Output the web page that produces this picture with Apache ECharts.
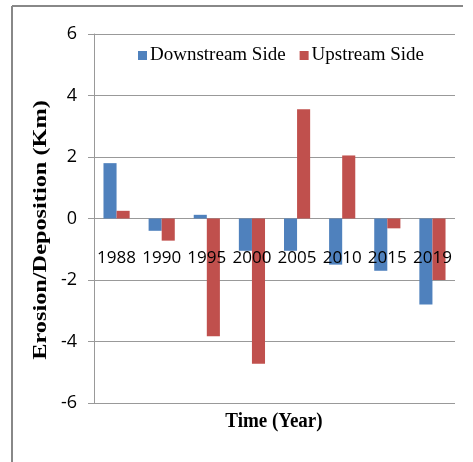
<!DOCTYPE html>
<html>
<head>
<meta charset="utf-8">
<script src="https://cdn.jsdelivr.net/npm/echarts@6/dist/echarts.min.js"></script>
<style>html,body{margin:0;padding:0;background:#fff;}#c{width:473px;height:462px;}</style>
</head>
<body>
<div id="c"></div>
<script>
var categories = ['1988','1990','1995','2000','2005','2010','2015','2019'];
var downstream = [1.8, -0.4, 0.12, -1.05, -1.05, -1.5, -1.7, -2.8];
var upstream = [0.25, -0.72, -3.83, -4.72, 3.55, 2.05, -0.32, -2.0];
var yTicks = {min: -6, max: 6, interval: 2};

var chart = echarts.init(document.getElementById('c'));
chart.setOption({
  animation: false,
  backgroundColor: '#fff',
  grid: {left: 94, right: 18, top: 34, bottom: 59, containLabel: false},
  legend: {
    data: ['Downstream Side', 'Upstream Side'],
    left: 133, top: 41,
    icon: 'rect', itemWidth: 9, itemHeight: 9, itemGap: 14,
    textStyle: {fontFamily: 'Liberation Serif', fontSize: 19, color: '#000', padding: [0,0,0,-2]}
  },
  xAxis: {
    type: 'category',
    data: categories,
    z: 10,
    axisLine: {show: false, onZero: false},
    axisTick: {show: false},
    axisLabel: {margin: -153, fontFamily: 'Open Sans', fontSize: 17, color: '#000', interval: 0}
  },
  yAxis: {
    type: 'value',
    min: yTicks.min, max: yTicks.max, interval: yTicks.interval,
    axisLine: {show: true, lineStyle: {color: '#999', width: 1}},
    axisTick: {show: true, length: 6, lineStyle: {color: '#999'}},
    axisLabel: {margin: 17, fontFamily: 'Open Sans', fontSize: 18, color: '#000'},
    splitLine: {lineStyle: {color: '#999', width: 1}}
  },
  series: [
    {name: 'Downstream Side', type: 'bar', data: downstream, barGap: '0%', barCategoryGap: '42%', itemStyle: {color: '#4F81BD'}},
    {name: 'Upstream Side', type: 'bar', data: upstream, itemStyle: {color: '#C0504D'}}
  ],
  graphic: [
    {type: 'line', shape: {x1: 12, y1: 6, x2: 463, y2: 6}, style: {stroke: '#888', lineWidth: 2}},
    {type: 'line', shape: {x1: 12, y1: 6, x2: 12, y2: 462}, style: {stroke: '#888', lineWidth: 2}},
    {type: 'text', x: 274, y: 422, scaleY: 1.1, style: {text: 'Time (Year)', textAlign: 'center', textVerticalAlign: 'middle', font: 'bold 19px "Liberation Serif"', fill: '#000'}},
    {type: 'text', x: 41, y: 230, rotation: Math.PI / 2, scaleX: 1.35, style: {text: 'Erosion/Deposition (Km)', textAlign: 'center', textVerticalAlign: 'middle', font: 'bold 18px "Liberation Serif"', fill: '#000'}}
  ]
});
</script>
</body>
</html>
